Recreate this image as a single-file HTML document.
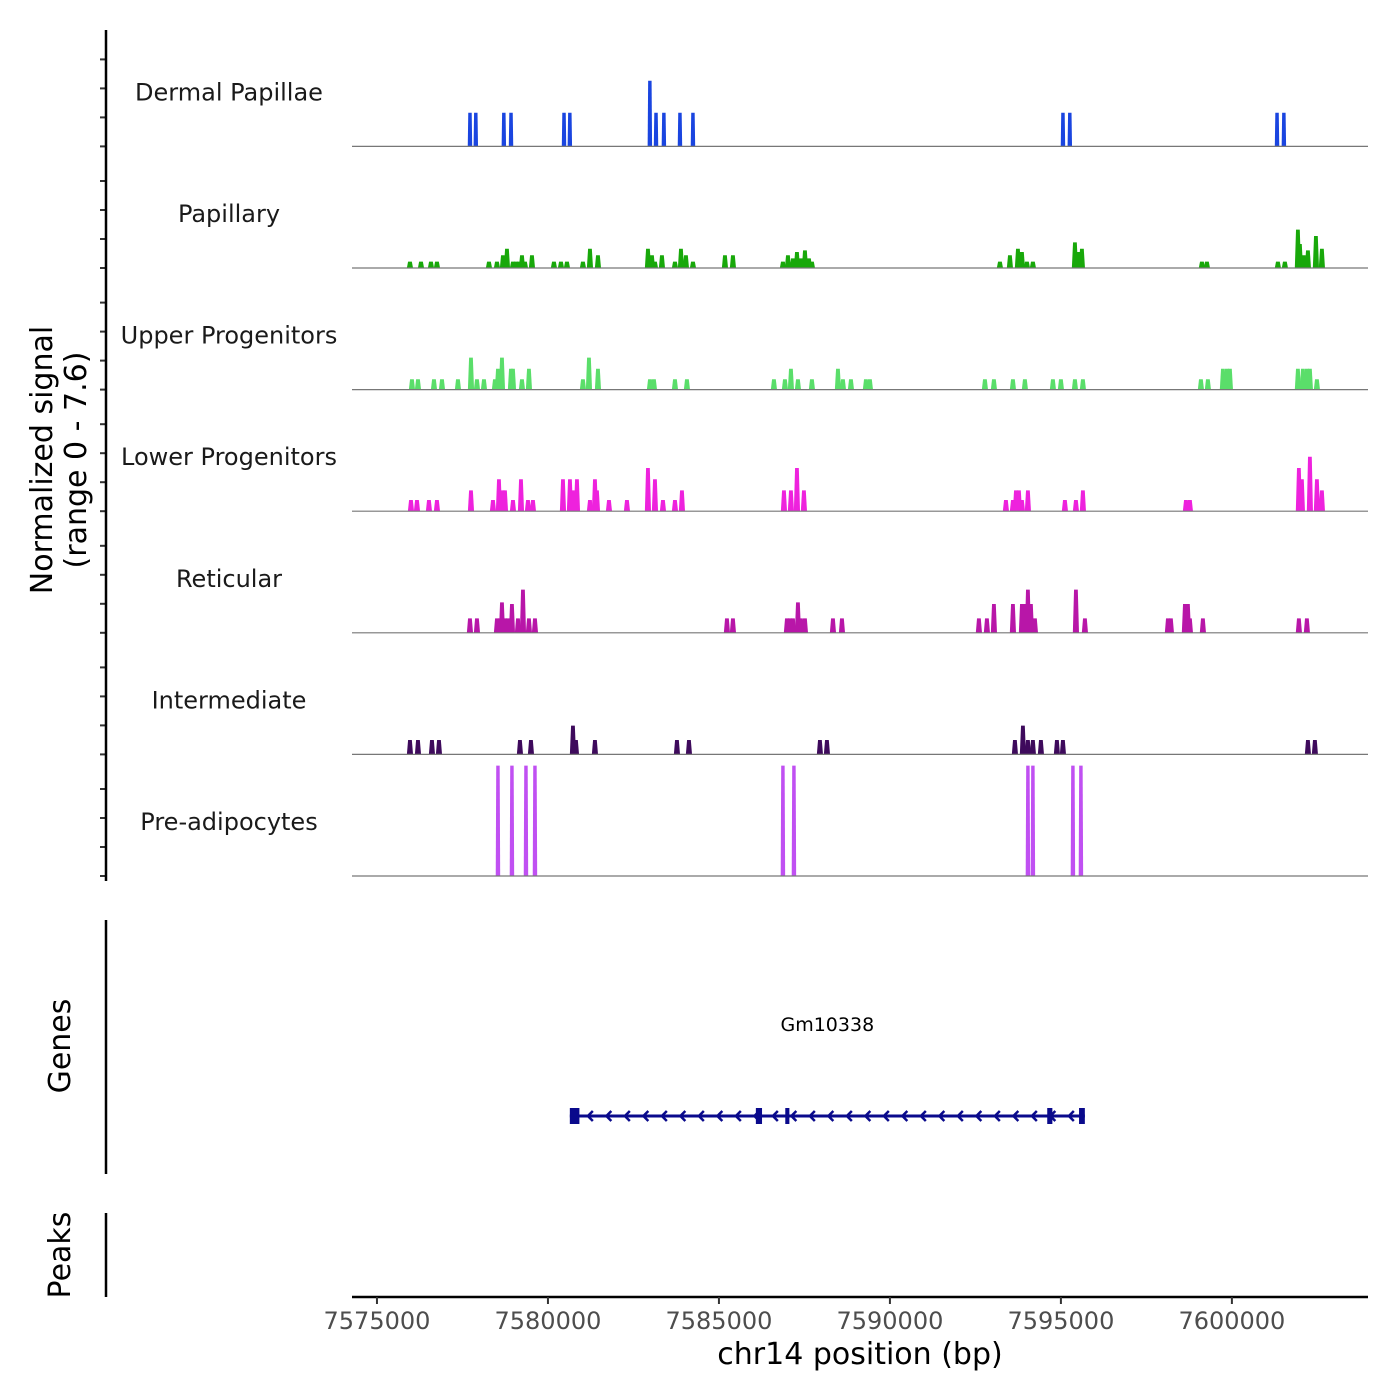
<!DOCTYPE html>
<html><head><meta charset="utf-8"><style>
body{margin:0;background:#fff;}
svg{display:block;font-family:"DejaVu Sans","Liberation Sans",sans-serif;}
</style></head><body>
<svg id="chart" width="1400" height="1400" viewBox="0 0 1400 1400" xmlns="http://www.w3.org/2000/svg">
<g id="tracks"></g>
<g id="axes"></g>
</svg>
<script>
const trackNames = ["Dermal Papillae","Papillary","Upper Progenitors","Lower Progenitors","Reticular","Intermediate","Pre-adipocytes"];
const trackColors = ["#1a45e0","#18a80a","#5ade6a","#ee22dd","#b816a8","#3e0a5c","#c050f2"];
const dpPos = [7577720,7577890,7578710,7578920,7580470,7580640,7582980,7583160,7583390,7583860,7584240,7595060,7595260,7601320,7601520];
const dpVal = [2.1,2.1,2.1,2.1,2.1,2.1,4.1,2.1,2.1,2.1,2.1,2.1,2.1,2.1,2.1];
const paPos = [7575965,7576287,7576579,7576754,7578275,7578509,7578684,7578801,7578977,7579064,7579152,7579240,7579328,7579532,7580175,7580380,7580556,7581023,7581228,7581462,7582924,7583041,7583129,7583333,7583714,7583889,7584035,7584240,7585176,7585409,7586871,7587018,7587164,7587281,7587398,7587515,7587632,7587719,7593217,7593509,7593743,7593860,7594006,7594181,7595410,7595527,7595614,7599123,7599269,7601345,7601550,7601930,7601989,7602106,7602223,7602457,7602632];
const paVal = [0.4,0.4,0.4,0.4,0.4,0.4,0.8,1.2,0.4,0.4,0.4,0.8,0.4,0.8,0.4,0.4,0.4,0.4,1.2,0.8,1.2,0.8,0.4,0.8,0.4,1.2,0.8,0.4,0.8,0.8,0.4,0.8,0.6,1.0,0.6,1.1,0.6,0.4,0.4,0.8,1.2,1.0,0.4,0.4,1.6,1.0,1.2,0.4,0.4,0.4,0.4,2.4,1.5,0.8,1.1,2.0,1.2];
const upPos = [7576023,7576199,7576667,7576901,7577368,7577749,7577924,7578129,7578450,7578538,7578655,7578918,7578977,7579240,7579444,7581023,7581199,7581462,7582983,7583099,7583714,7584064,7586608,7586930,7587105,7587310,7587719,7588480,7588626,7588860,7589298,7589415,7592778,7593041,7593597,7593947,7594766,7595000,7595410,7595643,7599094,7599298,7599737,7599854,7599942,7601930,7602076,7602193,7602281,7602486];
const upVal = [0.65,0.65,0.65,0.65,0.65,2.0,0.65,0.65,0.65,1.3,2.0,1.3,1.3,0.65,1.3,0.65,2.0,1.3,0.65,0.65,0.65,0.65,0.65,0.65,1.3,0.65,0.65,1.3,0.65,0.65,0.65,0.65,0.65,0.65,0.65,0.65,0.65,0.65,0.65,0.65,0.65,0.65,1.3,1.3,1.3,1.3,1.3,1.3,1.3,0.65];
const loPos = [7575994,7576170,7576520,7576754,7577749,7578392,7578567,7578684,7578743,7578977,7579211,7579415,7579561,7580439,7580643,7580731,7580848,7581228,7581374,7581433,7581784,7582310,7582924,7583129,7583363,7583714,7583918,7586901,7587105,7587281,7587485,7593392,7593597,7593685,7593772,7593860,7594035,7595117,7595439,7595643,7598656,7598772,7601959,7602047,7602281,7602486,7602632];
const loVal = [0.7,0.7,0.7,0.7,1.3,0.7,2.0,1.3,1.3,0.7,2.0,0.7,0.7,2.0,2.0,1.3,2.0,0.7,2.0,1.3,0.7,0.7,2.7,2.0,0.7,0.7,1.3,1.3,1.3,2.7,1.3,0.7,0.7,1.3,1.3,0.7,1.3,0.7,0.7,1.3,0.7,0.7,2.7,2.0,3.4,2.0,1.3];
const rePos = [7577719,7577924,7578509,7578597,7578655,7578743,7578830,7578947,7579123,7579269,7579444,7579620,7585234,7585409,7586988,7587076,7587164,7587310,7587398,7587515,7588334,7588597,7592602,7592836,7593041,7593597,7593860,7593947,7594035,7594123,7594240,7595439,7595702,7598129,7598216,7598626,7598714,7598772,7599152,7601959,7602193];
const reVal = [0.9,0.9,0.9,0.9,1.9,0.9,0.9,1.8,0.9,2.7,0.9,0.9,0.9,0.9,0.9,0.9,0.9,1.9,0.9,0.9,0.9,0.9,0.9,0.9,1.8,1.8,1.8,1.8,2.7,1.8,0.9,2.7,0.9,0.9,0.9,1.8,1.8,0.9,0.9,0.9,0.9];
const inPos = [7575965,7576199,7576608,7576813,7579181,7579503,7580731,7580819,7581374,7583772,7584123,7587953,7588158,7593655,7593889,7594035,7594181,7594415,7594883,7595059,7602223,7602427];
const inVal = [0.9,0.9,0.9,0.9,0.9,0.9,1.8,0.9,0.9,0.9,0.9,0.9,0.9,0.9,1.8,0.9,0.9,0.9,0.9,0.9,0.9,0.9];
const pdPos = [7578538,7578947,7579357,7579620,7586871,7587193,7594035,7594181,7595351,7595585];
const pdVal = [6.9,6.9,6.9,6.9,6.9,6.9,6.9,6.9,6.9,6.9];
const trackPos = [dpPos,paPos,upPos,loPos,rePos,inPos,pdPos];
const trackVal = [dpVal,paVal,upVal,loVal,reVal,inVal,pdVal];
const xTicks = [7575000,7580000,7585000,7590000,7595000,7600000];
const geneExons = [[7580640,7580920],[7586080,7586260],[7586940,7587060],[7594600,7594750],[7595530,7595700]];
const geneStart = 7580640, geneEnd = 7595700;

const NS = "http://www.w3.org/2000/svg";
const X0 = 352, X1 = 1368, BP0 = 7574270, BP1 = 7603980;
const yMax = 7.6, trackH = 121.6, firstBase = 146.4;
function xs(bp){ return X0 + (bp - BP0) / (BP1 - BP0) * (X1 - X0); }
function base(i){ return firstBase + i * trackH; }
function ys(i, v){ return base(i) - v / yMax * trackH; }
function mk(tag, attrs, parent){ const e = document.createElementNS(NS, tag); for (const k in attrs) e.setAttribute(k, attrs[k]); parent.appendChild(e); return e; }

const tracks = document.getElementById('tracks');
const axes = document.getElementById('axes');

trackNames.forEach((name, i) => {
  const g = mk('g', {}, tracks);
  
  
  const thin = (i === 0 || i === 6);
  const w = thin ? 130 : 180;
  trackPos[i].forEach((p, j) => {
    const xl = xs(p - w / 2), xr = xs(p + w / 2), yt = ys(i, trackVal[i][j]), yb = base(i);
    const inset = thin ? 0.5 : 1.2;
    const poly = mk('polygon', {points: `${xl},${yb} ${xl+inset},${yt} ${xr-inset},${yt} ${xr},${yb}`, fill: trackColors[i]}, g);
    
    
  });
  const bl = mk('line', {x1: X0, x2: X1, y1: base(i), y2: base(i), stroke: '#777', 'stroke-width': 1.2}, g);
  
  
  const lab = mk('text', {x: 229, y: base(i) - 46, 'text-anchor': 'middle', 'font-size': 24, fill: '#1a1a1a'}, g);
  lab.textContent = name;
  
  
  for (let k = 0; k < 4; k++) {
    const ty = base(i) - k * 29;
    const t = mk('line', {x1: 100, x2: 106, y1: ty, y2: ty, stroke: '#333', 'stroke-width': 2}, axes);
    
    
  }
});

const ya = mk('line', {x1: 106, x2: 106, y1: 30, y2: 881, stroke: '#000', 'stroke-width': 2.5}, axes);


const yt1 = mk('text', {x: 0, y: 0, transform: 'translate(52,460) rotate(-90)', 'text-anchor': 'middle', 'font-size': 30, fill: '#000'}, axes);
yt1.textContent = 'Normalized signal';


const yt2 = mk('text', {x: 0, y: 0, transform: 'translate(86,460) rotate(-90)', 'text-anchor': 'middle', 'font-size': 30, fill: '#000'}, axes);
yt2.textContent = '(range 0 - 7.6)';



const ga = mk('line', {x1: 106, x2: 106, y1: 920, y2: 1174, stroke: '#000', 'stroke-width': 2.5}, axes);


const gt = mk('text', {x: 0, y: 0, transform: 'translate(70,1046) rotate(-90)', 'text-anchor': 'middle', 'font-size': 30, fill: '#000'}, axes);
gt.textContent = 'Genes';


const gene = mk('g', {}, tracks);


const gy = 1116;
mk('line', {x1: xs(geneStart), x2: xs(geneEnd), y1: gy, y2: gy, stroke: '#0a0a8c', 'stroke-width': 3}, gene);
for (let ax = xs(geneStart) + 18; ax < xs(geneEnd) - 4; ax += 18.5) {
  mk('polyline', {points: `${ax+5},${gy-5} ${ax},${gy} ${ax+5},${gy+5}`, fill: 'none', stroke: '#0a0a8c', 'stroke-width': 2.5}, gene);
}
geneExons.forEach(e => {
  const r = mk('rect', {x: xs(e[0]), y: gy - 8, width: Math.max(4, xs(e[1]) - xs(e[0])), height: 16, fill: '#0a0a8c'}, gene);
  
  
});
const gl = mk('text', {x: xs((geneStart + geneEnd) / 2), y: 1031, 'text-anchor': 'middle', 'font-size': 19, fill: '#000'}, gene);
gl.textContent = 'Gm10338';



const pa = mk('line', {x1: 106, x2: 106, y1: 1213, y2: 1297, stroke: '#000', 'stroke-width': 2.5}, axes);


const pt = mk('text', {x: 0, y: 0, transform: 'translate(70,1255) rotate(-90)', 'text-anchor': 'middle', 'font-size': 30, fill: '#000'}, axes);
pt.textContent = 'Peaks';



const xa = mk('line', {x1: X0, x2: X1, y1: 1297, y2: 1297, stroke: '#000', 'stroke-width': 2.5}, axes);


xTicks.forEach(v => {
  const t = mk('line', {x1: xs(v), x2: xs(v), y1: 1297, y2: 1304, stroke: '#333', 'stroke-width': 2}, axes);
  
  
  const l = mk('text', {x: xs(v), y: 1329, 'text-anchor': 'middle', 'font-size': 24, fill: '#4d4d4d'}, axes);
  l.textContent = String(v);
  
  
});
const xt = mk('text', {x: 860, y: 1364, 'text-anchor': 'middle', 'font-size': 30, fill: '#000'}, axes);
xt.textContent = 'chr14 position (bp)';


</script>
</body></html>
